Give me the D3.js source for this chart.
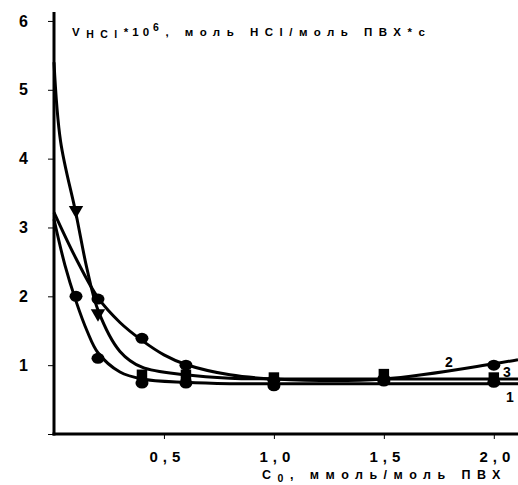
<!DOCTYPE html>
<html>
<head>
<meta charset="utf-8">
<script src="https://cdn.jsdelivr.net/npm/d3@7"></script>
<style>
body { margin: 0; background: #fff; }
text { font-family: "Liberation Sans", Arial, sans-serif; font-weight: bold; fill: #000; }
</style>
</head>
<body>
<div id="chart"></div>
<script>
var svgWidth = 518
var svgHeight = 485

// fitted curves (x, y)
var curve1 = [[0, 3.12], [0.05, 2.45], [0.1, 1.93], [0.15, 1.5], [0.2, 1.18], [0.3, 0.9], [0.4, 0.8], [0.6, 0.75], [0.8, 0.73], [1.0, 0.73], [2.11, 0.73]]
var curve2 = [[0, 3.22], [0.1, 2.55], [0.2, 1.98], [0.3, 1.62], [0.4, 1.36], [0.5, 1.15], [0.6, 1.01], [0.8, 0.86], [1.0, 0.8], [1.5, 0.8], [2.0, 1.02], [2.11, 1.08]]
var curve3 = [[0, 5.4], [0.03, 4.25], [0.1, 3.2], [0.15, 2.4], [0.2, 1.8], [0.3, 1.2], [0.4, 0.97], [0.6, 0.86], [0.8, 0.81], [1.0, 0.8], [2.11, 0.8]]

// measured points
var points1 = [[0.1, 2.0], [0.2, 1.1], [0.4, 0.74], [0.6, 0.74], [1.0, 0.7], [1.5, 0.77], [2.0, 0.75]]
var points2 = [[0.2, 1.96], [0.4, 1.39], [0.6, 1.0], [1.0, 0.78], [1.5, 0.8], [2.0, 1.0]]
var points3 = [[0.1, 3.25], [0.2, 1.75], [0.4, 0.86], [0.6, 0.86], [1.0, 0.82], [1.5, 0.87], [2.0, 0.82]]

var xTicks = [0.5, 1.0, 1.5, 2.0]
var xTickLabels = ["0,5", "1,0", "1,5", "2,0"]
var yTicks = [0, 1, 2, 3, 4, 5, 6]
var yTickLabels = ["", "1", "2", "3", "4", "5", "6"]

var svg = d3.select("#chart").append("svg").attr("width", svgWidth).attr("height", svgHeight)

var xScale = d3.scaleLinear().domain([0, 2.11]).range([54, 518])
var yScale = d3.scaleLinear().domain([0, 6.13]).range([434, 12])

// axes
var leftAxis = d3.axisLeft(yScale).tickValues(yTicks).tickSize(6).tickFormat((d, i) => yTickLabels[i])
var bottomAxis = d3.axisBottom(xScale).tickValues(xTicks).tickSize(5).tickFormat((d, i) => xTickLabels[i])

var gy = svg.append("g").attr("transform", "translate(54,0)").call(leftAxis)
gy.select(".domain").remove()
gy.selectAll("text").attr("font-size", "16px").attr("x", -26).attr("font-family", "Liberation Sans, Arial, sans-serif").attr("font-weight", "bold")

var gx = svg.append("g").attr("transform", "translate(0,434)").call(bottomAxis)
gx.select(".domain").remove()
gx.selectAll("text").attr("font-size", "15px").attr("y", 17).attr("dx", "3px").attr("letter-spacing", "5px").attr("font-family", "Liberation Sans, Arial, sans-serif").attr("font-weight", "bold")

svg.append("line").attr("x1", 54).attr("x2", 54).attr("y1", yScale(6.13)).attr("y2", 435.5)
    .attr("stroke", "#000").attr("stroke-width", 3)
svg.append("line").attr("x1", 52.5).attr("x2", 518).attr("y1", 434).attr("y2", 434)
    .attr("stroke", "#000").attr("stroke-width", 3)

// curves
var line = d3.line().x(d => xScale(d[0])).y(d => yScale(d[1])).curve(d3.curveCatmullRom.alpha(0.5))
svg.selectAll(".curve").data([curve1, curve2, curve3]).enter().append("path")
    .attr("class", "curve")
    .attr("d", line)
    .attr("fill", "none")
    .attr("stroke", "#000")
    .attr("stroke-width", 3)

// markers
svg.selectAll(".p1").data(points1).enter().append("ellipse")
    .attr("cx", d => xScale(d[0])).attr("cy", d => yScale(d[1]))
    .attr("rx", 6.5).attr("ry", 5.5).attr("fill", "#000")
svg.selectAll(".p2").data(points2).enter().append("ellipse")
    .attr("cx", d => xScale(d[0])).attr("cy", d => yScale(d[1]))
    .attr("rx", 6.5).attr("ry", 5.5).attr("fill", "#000")
svg.selectAll(".p3").data(points3).enter().append("path")
    .attr("d", (d, i) => i < 2
        ? d3.symbol().type(d3.symbolTriangle).size(90)()
        : d3.symbol().type(d3.symbolSquare).size(110)())
    .attr("transform", (d, i) => `translate(${xScale(d[0])},${yScale(d[1])})` + (i < 2 ? " rotate(180)" : ""))
    .attr("fill", "#000")

// curve labels
svg.append("text").attr("x", 445).attr("y", 367).attr("font-size", "14px").text("2")
svg.append("text").attr("x", 503).attr("y", 377).attr("font-size", "14px").text("3")
svg.append("text").attr("x", 506).attr("y", 402).attr("font-size", "14px").text("1")

// axis titles
var yTitle = svg.append("text").attr("x", 72).attr("y", 36).attr("font-size", "11.5px").attr("letter-spacing", "6.5px")
yTitle.append("tspan").text("V")
yTitle.append("tspan").attr("dy", 2).attr("font-size", "10.5px").text("HCl")
yTitle.append("tspan").attr("dy", -2).attr("letter-spacing", "4px").text("*10")
yTitle.append("tspan").attr("dy", -5).attr("font-size", "10.5px").text("6")
yTitle.append("tspan").attr("dy", 5).text(", моль HCl/моль ПВХ*с")

var xTitle = svg.append("text").attr("x", 262).attr("y", 479).attr("font-size", "12.5px").attr("letter-spacing", "6.5px")
xTitle.append("tspan").text("С")
xTitle.append("tspan").attr("dy", 3).attr("font-size", "10.5px").text("0")
xTitle.append("tspan").attr("dy", -3).text(", ммоль/моль ПВХ")
</script>
</body>
</html>
